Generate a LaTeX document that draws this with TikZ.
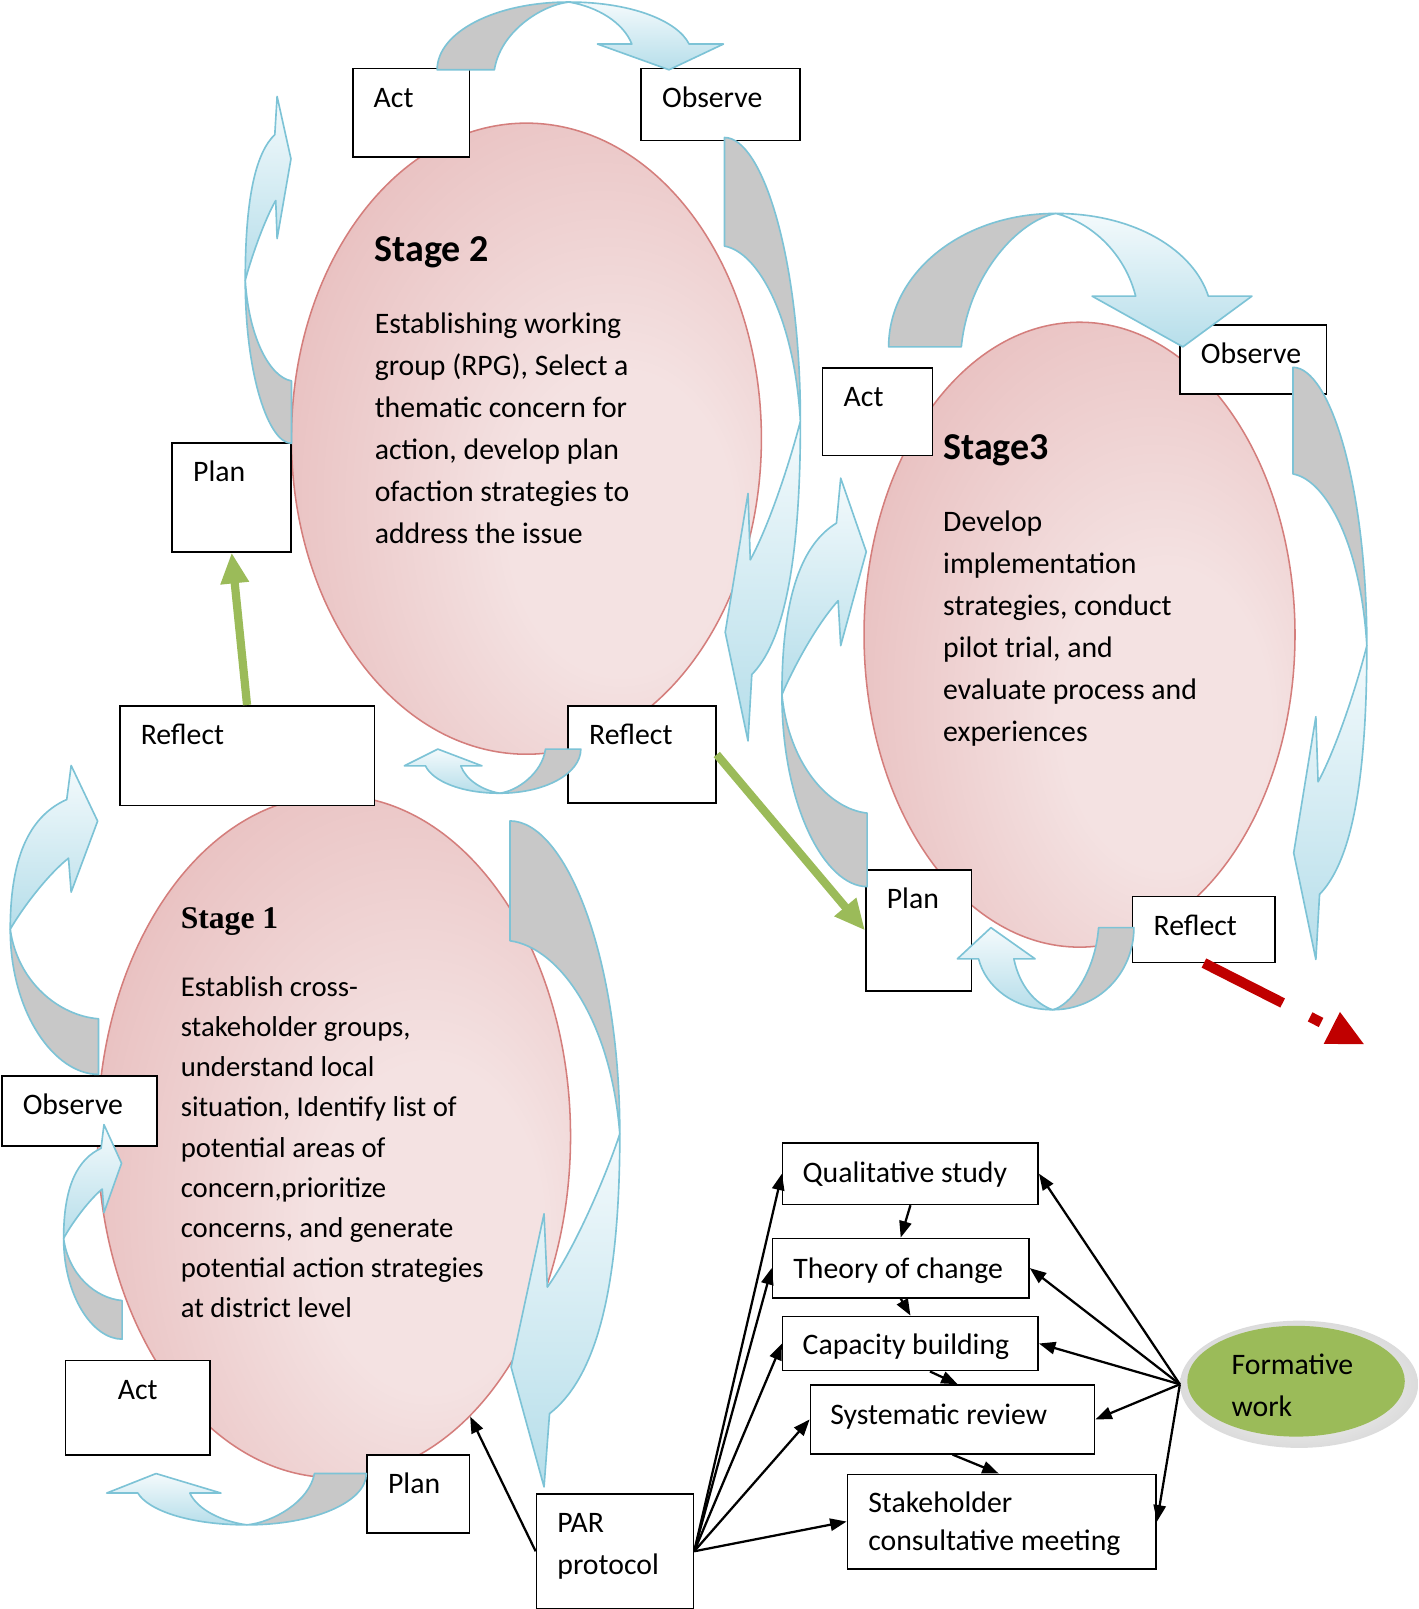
\documentclass[tikz,border=0pt]{standalone}
\usepackage{fontspec}
\setmainfont{Carlito}
\newfontfamily\serifhead{Liberation Serif}
\usetikzlibrary{arrows.meta, shapes.geometric}

\definecolor{stagelight}{RGB}{244,226,226}
\definecolor{stagemid}{RGB}{234,196,196}
\definecolor{stagedark}{RGB}{219,152,152}
\definecolor{stageline}{RGB}{212,126,124}
\definecolor{arrowline}{RGB}{125,195,214}
\definecolor{arrowgrey}{RGB}{200,200,200}
\definecolor{arrowlight}{RGB}{244,250,252}
\definecolor{arrowblue}{RGB}{182,222,234}
\definecolor{formgreen}{RGB}{155,187,89}
\definecolor{nextred}{RGB}{192,0,0}

\pgfdeclareradialshading{stageshade}{\pgfpoint{12bp}{-8bp}}{color(0bp)=(stagelight); color(12bp)=(stagelight); color(32bp)=(stagemid); color(52bp)=(stagedark); color(75bp)=(stagedark)}

\newcommand{\boxfont}{\fontsize{29}{41}\selectfont}
\newcommand{\stageonefont}{\fontsize{28}{39.1}\selectfont}
\newcommand{\titlefont}{\fontsize{37}{44}\selectfont\bfseries}
\newcommand{\titleonefont}{\serifhead\fontsize{30.8}{36}\selectfont\bfseries}

% curved arrow going over the top, in a unit box (tail bottom left, head bottom right)
\newcommand{\overarrow}{%
  \path[backface] (0,1) .. controls (0,0.45) and (0.2,0) .. (0.46,0)
    .. controls (0.36,0.05) and (0.22,0.45) .. (0.2,1) -- cycle;
  \path[frontface] (0.46,0) .. controls (0.68,0) and (0.84,0.28) .. (0.88,0.62)
    -- (1,0.62) -- (0.81,1) -- (0.56,0.62) -- (0.68,0.62)
    .. controls (0.65,0.3) and (0.56,0.07) .. (0.46,0) -- cycle;
}
% curved arrow down the side, in a unit box (tail top left, head at the bottom)
\newcommand{\sidearrow}{%
  \path[backface] (0,0) .. controls (0.5,0) and (1,0.2) .. (1,0.47)
    .. controls (0.92,0.3) and (0.45,0.19) .. (0,0.18) -- cycle;
  \path[frontface] (1,0.47) .. controls (1,0.72) and (0.75,0.84) .. (0.36,0.89)
    -- (0.31,1) -- (0.01,0.82) -- (0.31,0.59) -- (0.34,0.7)
    .. controls (0.6,0.64) and (0.88,0.53) .. (1,0.47) -- cycle;
}

\begin{document}
\begin{tikzpicture}[x=1pt, y=-1pt,
    cyclebox/.style={draw, line width=1.5pt, fill=white, anchor=north west, inner sep=0pt},
    boxtext/.style={anchor=base west, inner sep=0pt, font=\boxfont, align=left},
    stageoval/.style={ellipse, draw=stageline, line width=1.5pt, shade, shading=stageshade, inner sep=0pt},
    stitle/.style={anchor=base west, inner sep=0pt, font=\titlefont},
    sbody/.style={anchor=base west, inner sep=0pt, font=\boxfont, align=left},
    backface/.style={fill=arrowgrey, draw=arrowline, line width=1.6pt, line join=round},
    frontface/.style={top color=arrowlight, bottom color=arrowblue, draw=arrowline, line width=1.6pt, line join=round},
    feed/.style={-{Triangle[length=16pt,width=12pt]}, line width=2.2pt},
    nextstage/.style={-{Triangle[length=30pt,width=26pt]}, line width=8pt, draw=formgreen},
    onwards/.style={-{Triangle[length=36pt,width=32pt]}, line width=10pt, draw=nextred, dash pattern=on 86pt off 30pt on 12pt off 14pt}]
  \useasboundingbox (0,0) rectangle (1382,1568);

  % the three stages (multi-line texts sit on their last baseline)
  \node[stageoval, minimum width=458pt, minimum height=615pt] (stage2) at (513,427.5) {};
  \node[stageoval, minimum width=461pt, minimum height=665pt] (stage1) at (325.5,1107.5) {};
  \node[stageoval, minimum width=420pt, minimum height=609pt] (stage3) at (1052,618.5) {};

  \node[stitle] (s2title) at (365,255) {Stage 2};
  \node[sbody] (s2text) at (365,530) {Establishing working\\group (RPG), Select a\\thematic concern for\\action, develop plan\\ofaction strategies to\\address the issue};
  \node[stitle, font=\titleonefont] (s1title) at (176,905) {Stage 1};
  \node[sbody, font=\stageonefont] (s1text) at (176,1284) {Establish cross-\\stakeholder groups,\\understand local\\situation, Identify list of\\potential areas of\\concern,prioritize\\concerns, and generate\\potential action strategies\\at district level};
  \node[stitle] (s3title) at (919,448) {Stage3};
  \node[sbody] (s3text) at (919,723) {Develop\\implementation\\strategies, conduct\\pilot trial, and\\evaluate process and\\experiences};

  % cycle boxes
  \node[cyclebox, minimum width=114pt, minimum height=86pt] (act2) at (343,66) {};
  \node[cyclebox, minimum width=155pt, minimum height=70pt] (obs2) at (624,66) {};
  \node[cyclebox, minimum width=116pt, minimum height=106pt] (plan2) at (167,431) {};
  \node[cyclebox, minimum width=144pt, minimum height=95pt] (refl2) at (553,687) {};
  \node[cyclebox, minimum width=248pt, minimum height=97pt] (refl1) at (116,687) {};
  \node[cyclebox, minimum width=151pt, minimum height=68pt] (obs1) at (1,1048) {};
  \node[cyclebox, minimum width=141pt, minimum height=92pt] (act1) at (63,1325) {};
  \node[cyclebox, minimum width=100pt, minimum height=76pt] (plan1) at (357,1417) {};
  \node[cyclebox, minimum width=107pt, minimum height=85pt] (act3) at (801,358) {};
  \node[cyclebox, minimum width=143pt, minimum height=67pt] (obs3) at (1149,316) {};
  \node[cyclebox, minimum width=103pt, minimum height=118pt] (plan3) at (843,847) {};
  \node[cyclebox, minimum width=139pt, minimum height=64pt] (refl3) at (1103,873) {};
  \node[cyclebox, minimum width=153pt, minimum height=112pt] (par) at (522,1455) {};
  \node[cyclebox, minimum width=249pt, minimum height=60pt] (qual) at (762,1113) {};
  \node[cyclebox, minimum width=250pt, minimum height=58pt] (toc) at (752,1206) {};
  \node[cyclebox, minimum width=249pt, minimum height=53pt] (capb) at (762,1282) {};
  \node[cyclebox, minimum width=277pt, minimum height=67pt] (sysr) at (789,1349) {};
  \node[cyclebox, minimum width=301pt, minimum height=92pt] (stake) at (825,1436) {};

  \node[boxtext] (act2t) at ([shift={(21,38.5)}]act2.north west) {Act};
  \node[boxtext] (obs2t) at ([shift={(21,38.5)}]obs2.north west) {Observe};
  \node[boxtext] (plan2t) at ([shift={(21,38.5)}]plan2.north west) {Plan};
  \node[boxtext] (refl2t) at ([shift={(21,38.5)}]refl2.north west) {Reflect};
  \node[boxtext] (refl1t) at ([shift={(21,38.5)}]refl1.north west) {Reflect};
  \node[boxtext] (obs1t) at ([shift={(21,38.5)}]obs1.north west) {Observe};
  \node[boxtext, anchor=base] (act1t) at ([yshift=-38.5pt]act1.north) {Act};
  \node[boxtext] (plan1t) at ([shift={(21,38.5)}]plan1.north west) {Plan};
  \node[boxtext] (act3t) at ([shift={(21,38.5)}]act3.north west) {Act};
  \node[boxtext] (obs3t) at ([shift={(21,38.5)}]obs3.north west) {Observe};
  \node[boxtext] (plan3t) at ([shift={(21,38.5)}]plan3.north west) {Plan};
  \node[boxtext] (refl3t) at ([shift={(21,38.5)}]refl3.north west) {Reflect};
  \node[boxtext] (part) at ([shift={(21,79)}]par.north west) {PAR\\protocol};
  \node[boxtext] (qualt) at ([shift={(20,39.5)}]qual.north west) {Qualitative study};
  \node[boxtext] (toct) at ([shift={(21,40)}]toc.north west) {Theory of change};
  \node[boxtext] (capbt) at ([shift={(20,38)}]capb.north west) {Capacity building};
  \node[boxtext] (sysrt) at ([shift={(20,39)}]sysr.north west) {Systematic review};
  \node[boxtext, font=\fontsize{29}{37}\selectfont] (staket) at ([shift={(21,75)}]stake.north west) {Stakeholder\\consultative meeting};

  % curved cycle arrows, stage 2
  \begin{scope}[shift={(426,2)}, xscale=279, yscale=66] \overarrow \end{scope}
  \begin{scope}[shift={(706,134)}, xscale=74, yscale=588] \sidearrow \end{scope}
  \begin{scope}[shift={(566,773)}, xscale=-172, yscale=-43] \overarrow \end{scope}
  \begin{scope}[shift={(284,432)}, xscale=-45, yscale=-338] \sidearrow \end{scope}
  % stage 1
  \begin{scope}[shift={(96,1047)}, xscale=-86, yscale=-301] \sidearrow \end{scope}
  \begin{scope}[shift={(497,800)}, xscale=107, yscale=649] \sidearrow \end{scope}
  \begin{scope}[shift={(119,1305)}, xscale=-57, yscale=-209] \sidearrow \end{scope}
  \begin{scope}[shift={(357,1486)}, xscale=-253, yscale=-50] \overarrow \end{scope}
  % stage 3
  \begin{scope}[shift={(866,208)}, xscale=354, yscale=130] \overarrow \end{scope}
  \begin{scope}[shift={(1260,358)}, xscale=72, yscale=577] \sidearrow \end{scope}
  \begin{scope}[shift={(1105,984)}, xscale=-172, yscale=-80] \overarrow \end{scope}
  \begin{scope}[shift={(845,864)}, xscale=-83, yscale=-398] \sidearrow \end{scope}

  % formative work
  \node[ellipse, minimum width=232pt, minimum height=124pt, shade, inner color=white, outer color=gray!28] (formrim) at (1266,1349) {};
  \node[ellipse, minimum width=212pt, minimum height=108pt, fill=formgreen, inner sep=0pt] (formative) at (1263,1346) {};
  \node[boxtext] (formt) at (1200,1380) {Formative\\work};

  \draw[feed] (par.east) -- (qual.west);
  \draw[feed] (par.east) -- (toc.west);
  \draw[feed] (par.east) -- (capb.west);
  \draw[feed] (par.east) -- (sysr.west);
  \draw[feed] (par.east) -- (stake.west);
  \draw[feed] (par.west) -- (stage1);
  \draw[feed] (formrim.west) -- (qual.east);
  \draw[feed] (formrim.west) -- (toc.east);
  \draw[feed] (formrim.west) -- (capb.east);
  \draw[feed] (formrim.west) -- (sysr.east);
  \draw[feed] (formrim.west) -- (stake.east);
  \draw[feed] (qual.south) -- (toc.north);
  \draw[feed] (toc.south) -- (capb.north);
  \draw[feed] ([xshift=19pt]capb.south) -- ([xshift=5pt]sysr.north);
  \draw[feed] (sysr.south) -- ([xshift=-3pt]stake.north);

  % moving on to the next stage
  \draw[nextstage] (refl1.north) -- (plan2.south);
  \draw[nextstage] (refl2.east) -- (plan3.west);
  \coordinate (onward) at (1330,1018);
  \draw[onwards] (refl3.south) -- (onward);
\end{tikzpicture}
\end{document}
